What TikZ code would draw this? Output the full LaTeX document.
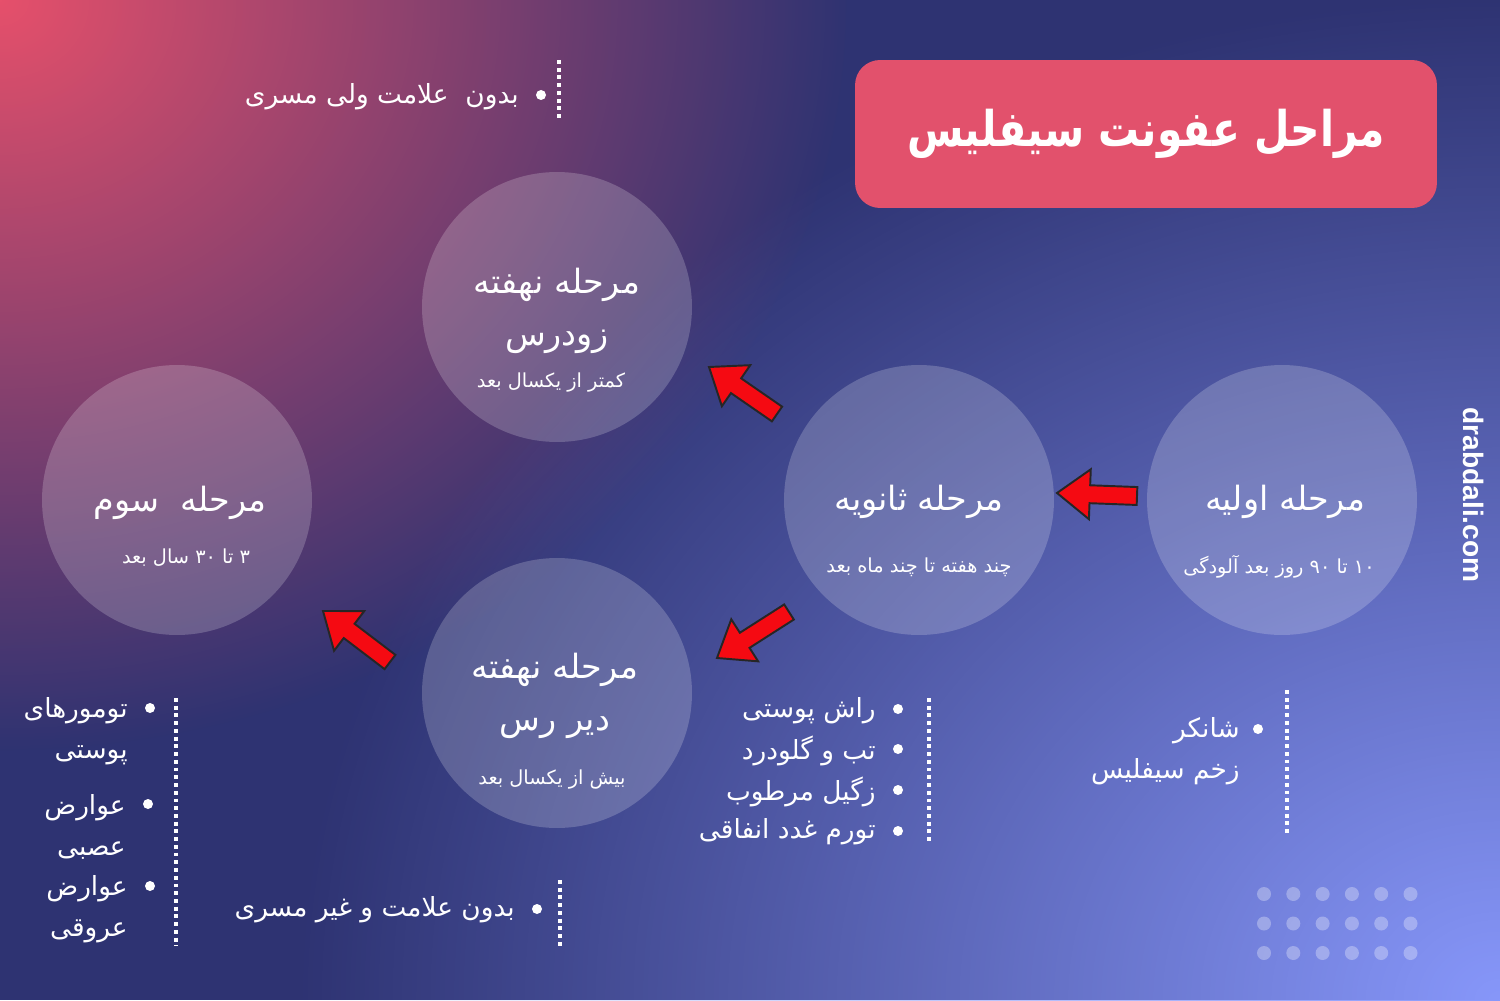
\documentclass[tikz,border=0pt]{standalone}
\usepackage{fontspec}
\newfontfamily\fa[Script=Arabic]{DejaVu Sans}
\newfontfamily\site{Liberation Sans}
\TeXXeTstate=1
\usetikzlibrary{positioning,calc,fadings}

\definecolor{navy}{HTML}{2E3372}
\definecolor{rose}{HTML}{E6506B}
\definecolor{sky}{HTML}{8797FA}
\definecolor{titlered}{HTML}{E2516C}
\definecolor{arrowred}{HTML}{F50A12}
\tikzfading[name=glow, inner color=transparent!0, outer color=transparent!100]

% block arrow from #1 (tail) to #2 (tip)
\newcommand{\redarrow}[2]{%
  \draw[ar] let \p1=($(#2)-(#1)$), \n1={atan2(\y1,\x1)}, \n2={veclen(\x1,\y1)-18.7pt} in
    ($(#1)+(\n1-90:5.1pt)$) -- ++(\n1:\n2) -- ++(\n1-90:9.1pt) -- (#2)
    -- ($(#1)+(\n1:\n2)+(\n1+90:14.2pt)$) -- ++(\n1-90:9.1pt)
    -- ($(#1)+(\n1+90:5.1pt)$) -- cycle;}

\begin{document}
\begin{tikzpicture}[x=0.02cm, y=-0.02cm,
  c/.style={circle, fill=white, fill opacity=.2, minimum size=5.4cm, inner sep=0},
  t/.style={text=white, align=center, font=\fa\fontsize{19}{30}\selectfont},
  st/.style={text=white, font=\fa\fontsize{11}{13}\selectfont},
  it/.style={text=white, align=right, anchor=east, inner sep=0, font=\fa\fontsize{15}{23}\selectfont},
  dot/.style={circle, fill=white, minimum size=0.2cm, inner sep=0},
  dl/.style={white, line width=2pt, dash pattern=on 2.2pt off 2.2pt},
  ar/.style={fill=arrowred, draw=black!85, line width=1.1pt, line join=miter},
  tbox/.style={rectangle, rounded corners=0.5cm, fill=titlered, minimum width=11.64cm, minimum height=2.96cm, text=white, font=\fa\bfseries\fontsize{28}{34}\selectfont}]
	\useasboundingbox (0,0) rectangle (1500,1000);
	\begin{scope}
		\clip (0,0) rectangle (1500,1000);
		\fill[navy] (0,0) rectangle (1500,1000);
		\fill[rose, path fading=glow] (0,0) ellipse [x radius=17cm, y radius=15cm];
		\fill[sky, path fading=glow] (1500,1000) ellipse [x radius=24cm, y radius=20cm];
	\end{scope}

	\node[tbox] (title) at (1146,134) {\scalebox{0.83}[1]{\beginR مراحل عفونت سیفلیس\endR}};

	\node[c] (prim) at (1282,500) {};
	\node[c] (sec) at (919,500) {};
	\node[c] (early) at (557,307) {};
	\node[c] (late) at (557,693) {};
	\node[c] (tert) at (177,500) {};

	\node[t] (prim_t) at (1285,502) {\beginR مرحله اولیه\endR};
	\node[st] (prim_s) at (1279,567) {\beginR ۱۰ تا ۹۰ روز بعد آلودگی\endR};
	\node[t] (sec_t) at (919,502) {\beginR مرحله ثانویه\endR};
	\node[st] (sec_s) at (919,567) {\beginR چند هفته تا چند ماه بعد\endR};
	\node[t] (early_t) at (557,311) {\beginR مرحله نهفته\endR\\\beginR زودرس\endR};
	\node[st] (early_s) at (551,383) {\beginR کمتر از یکسال بعد\endR};
	\node[t] (late_t) at (555,696) {\beginR مرحله نهفته\endR\\\beginR دیر رس\endR};
	\node[st] (late_s) at (552,780) {\beginR بیش از یکسال بعد\endR};
	\node[t] (tert_t) at (180,503) {\beginR مرحله\ \ سوم\endR};
	\node[st] (tert_s) at (186,558) {\beginR ۳ تا ۳۰ سال بعد\endR};

	\coordinate (a1s) at (1137,496); \coordinate (a1e) at (1057,493);
	\coordinate (a2s) at (789,612); \coordinate (a2e) at (717,658);
	\coordinate (a3s) at (777,414); \coordinate (a3e) at (709,367);
	\coordinate (a4s) at (390,662); \coordinate (a4e) at (323,611);
	\redarrow{a1s}{a1e}
	\redarrow{a2s}{a2e}
	\redarrow{a3s}{a3e}
	\redarrow{a4s}{a4e}

	% early latent
	\node[dot] (d0) at (541,95) {};
	\node[it] (n0) at (519,97) {\beginR بدون\ \ علامت ولی مسری\endR};
	\draw[dl] (559,60) -- (559,118);

	% tertiary
	\node[dot] (d1) at (150,708) {};
	\node[it] (n1) at (128,731) {\beginR تومورهای\endR\\\beginR پوستی\endR};
	\node[dot] (d2) at (148,804) {};
	\node[it] (n2) at (126,827) {\beginR عوارض\endR\\\beginR عصبی\endR};
	\node[dot] (d3) at (150,886) {};
	\node[it] (n3) at (128,909) {\beginR عوارض\endR\\\beginR عروقی\endR};
	\draw[dl] (176,698) -- (176,946);

	% late latent
	\node[dot] (d4) at (537,909) {};
	\node[it] (n4) at (515,910) {\beginR بدون علامت و غیر مسری\endR};
	\draw[dl] (560,880) -- (560,946);

	% secondary
	\node[dot] (d5) at (898,709) {};
	\node[it] (n5) at (876,711) {\beginR راش پوستی\endR};
	\node[dot] (d6) at (898,749) {};
	\node[it] (n6) at (876,751) {\beginR تب و گلودرد\endR};
	\node[dot] (d7) at (898,790) {};
	\node[it] (n7) at (876,792) {\beginR زگیل مرطوب\endR};
	\node[dot] (d8) at (898,831) {};
	\node[it] (n8) at (876,832) {\beginR تورم غدد انفاقی\endR};
	\draw[dl] (929,698) -- (929,843);

	% primary
	\node[dot] (d9) at (1258,729) {};
	\node[it] (n9) at (1240,751) {\beginR شانکر\endR\\\beginR زخم سیفلیس\endR};
	\draw[dl] (1287,690) -- (1287,835);

	\node[text=white, rotate=-90, font=\site\bfseries\fontsize{16}{18}\selectfont] (web) at (1474,495) {drabdali.com};

	\foreach \i in {0,...,5}
		\foreach \j in {0,1,2}
			\fill[white, opacity=.3] (1264+\i*29.3,894+\j*29.5) circle (0.14cm);
\end{tikzpicture}
\end{document}
